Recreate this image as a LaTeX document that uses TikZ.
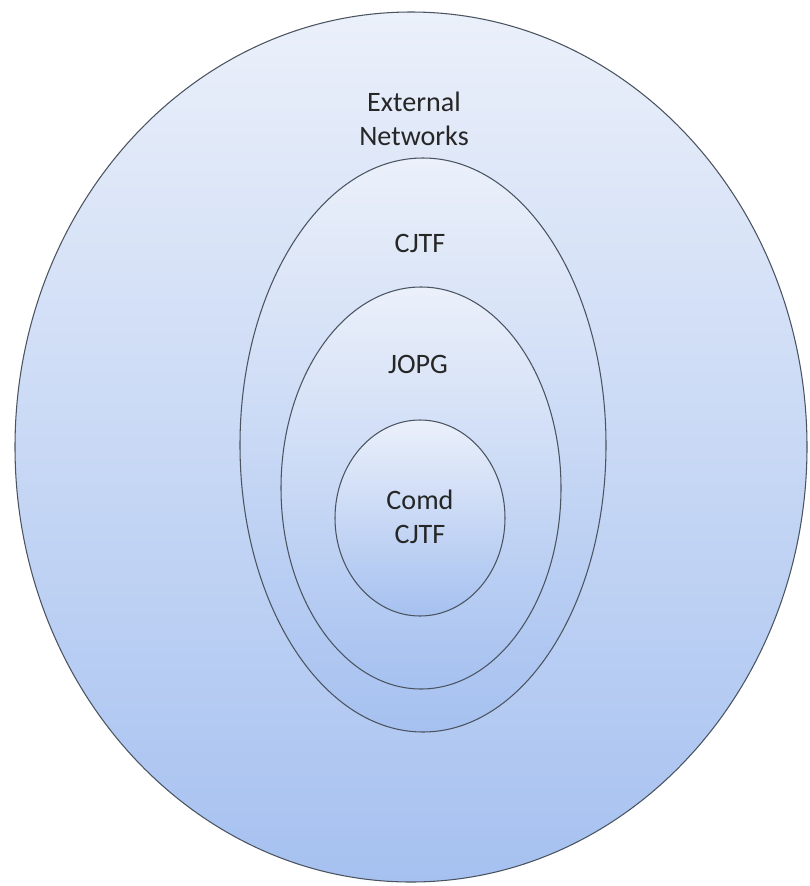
\documentclass[tikz,border=0pt]{standalone}
\usepackage{fontspec}
\setmainfont{Carlito}
\definecolor{ringtop}{HTML}{EBF0FA}
\definecolor{ringbot}{HTML}{A6C1F0}
\definecolor{ringline}{HTML}{4A5360}
\definecolor{labeltext}{HTML}{262626}

\tikzset{
	ring/.style={draw=ringline, line width=0.6pt, top color=ringtop, bottom color=ringbot},
	ringlabel/.style={text=labeltext, font=\fontsize{16}{19}\selectfont, align=center, inner sep=0pt}
}

\begin{document}
\begin{tikzpicture}[x=0.02cm, y=-0.02cm]
		\useasboundingbox (0, 0) rectangle (809, 886);

		% anelli, dal piu esterno
		\fill[white] (0, 0) rectangle (809, 886);
		\draw[ring] (411, 447) ellipse [x radius=396, y radius=435];
		\draw[ring] (423, 445) ellipse [x radius=183, y radius=287];
		\draw[ring] (421, 488) ellipse [x radius=140, y radius=201];
		\draw[ring] (420, 518) ellipse [x radius=85, y radius=98];

		% etichette
		\node[ringlabel] (ext) at (414, 119) {External\\Networks};
		\node[ringlabel] (cjtf) at (420, 243) {CJTF};
		\node[ringlabel] (jopg) at (418, 364) {JOPG};
		\node[ringlabel] (comd) at (420, 517) {Comd\\CJTF};
	\end{tikzpicture}
\end{document}
